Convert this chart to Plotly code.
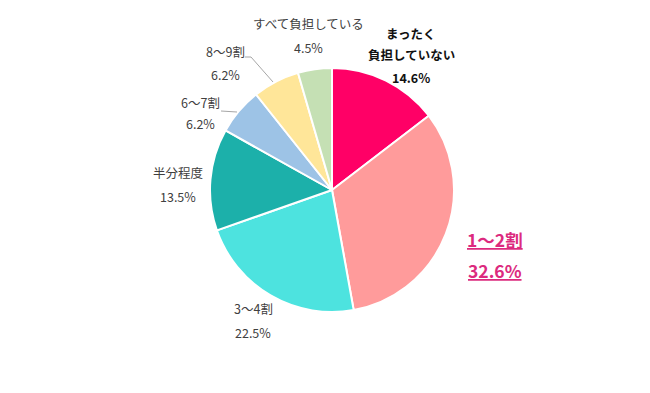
import plotly.graph_objects as go

categories = ["まったく<br>負担していない", "1～2割", "3～4割", "半分程度", "6～7割", "8～9割", "すべて負担している"]
values = [14.6, 32.6, 22.5, 13.5, 6.2, 6.2, 4.5]
colors = ["#FF0066", "#FF9B9B", "#4DE3DF", "#1CB0AA", "#9DC3E6", "#FFE699", "#C5E0B4"]

W, H = 650, 393
FONT = "Noto Sans CJK JP"

fig = go.Figure(go.Pie(
    labels=categories, values=values, sort=False, direction="clockwise", rotation=0,
    marker=dict(colors=colors, line=dict(color="white", width=2)),
    textinfo="none", hoverinfo="label+percent", showlegend=False,
    domain=dict(x=[(332 - 122) / W, (332 + 122) / W], y=[1 - (190 + 122) / H, 1 - (190 - 122) / H]),
))

# label placements (pixels): (x_center, [y of each text line])
placements = [(411, [33, 55, 77]), (495, [239, 270]), (253, [308, 332]), (178, [172, 196]),
              (200, [103, 124]), (225, [51, 74]), (308, [24, 47])]


def px(x, y):
    return x / W, 1 - y / H


ann = []
for i, (cat, v) in enumerate(zip(categories, values)):
    x, ys = placements[i]
    lines = cat.split("<br>") + [f"{v}%"]
    for txt, yy in zip(lines, ys):
        if i == 0:
            t, size, col = "<b>" + txt + "</b>", 12.5, "#111111"
        elif i == 1:
            t, size, col = "<u><b>" + txt + "</b></u>", 17.5, "#DC2A7E"
        else:
            t, size, col = txt, 12.5, "#404040"
        ax, ay = px(x, yy)
        ann.append(dict(x=ax, y=ay, text=t, showarrow=False, xref="paper", yref="paper",
                        xanchor="center", yanchor="middle",
                        font=dict(size=size, color=col, family=FONT)))

shapes = [
    dict(type="path", xref="paper", yref="paper",
         path=f"M {245/W} {1-57/H} L {251/W} {1-57/H} L {273/W} {1-82/H}",
         line=dict(color="#A6A6A6", width=1)),
    dict(type="line", xref="paper", yref="paper", x0=221 / W, y0=1 - 111 / H, x1=237 / W, y1=1 - 112 / H,
         line=dict(color="#A6A6A6", width=1)),
]

fig.update_layout(width=W, height=H, margin=dict(l=0, r=0, t=0, b=0),
                  paper_bgcolor="white", plot_bgcolor="white",
                  annotations=ann, shapes=shapes, font=dict(family=FONT))
fig.write_html("out.html", config={"displayModeBar": False},
               post_script="document.body.style.margin='0px';")
